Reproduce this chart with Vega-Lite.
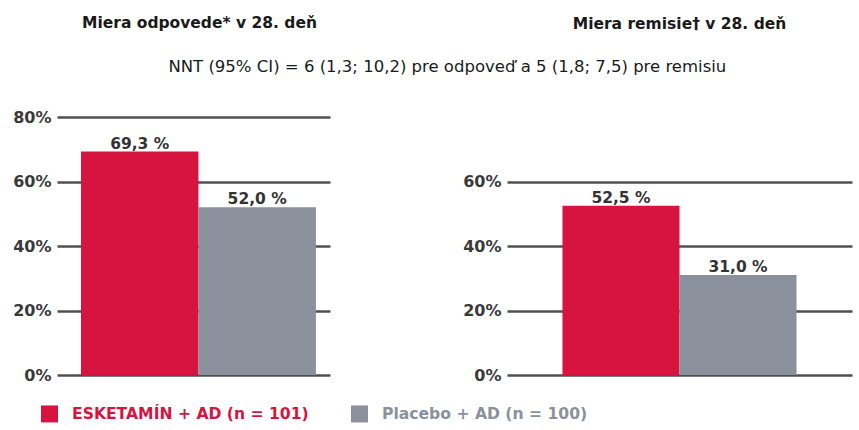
{
  "$schema": "https://vega.github.io/schema/vega-lite/v6.json",
  "background": "white",
  "padding": {"left": 12, "top": 15, "right": 5, "bottom": 5},
  "title": {
    "text": "NNT (95% CI) = 6 (1,3; 10,2) pre odpoveď a 5 (1,8; 7,5) pre remisiu",
    "anchor": "middle",
    "offset": -60,
    "dx": 15,
    "font": "DejaVu Sans",
    "fontSize": 16.5,
    "fontWeight": "normal",
    "color": "#1a1a1a"
  },
  "datasets": {
    "resp": [
      {"group": "ESKETAMÍN + AD (n = 101)", "value": 69.3, "label": "69,3 %"},
      {"group": "Placebo + AD (n = 100)", "value": 52.0, "label": "52,0 %"}
    ],
    "rem": [
      {"group": "ESKETAMÍN + AD (n = 101)", "value": 52.5, "label": "52,5 %"},
      {"group": "Placebo + AD (n = 100)", "value": 31.0, "label": "31,0 %"}
    ]
  },
  "bounds": "flush",
  "spacing": 177,
  "hconcat": [
    {
      "width": 273,
      "height": 258,
      "title": {"text": "Miera odpovede* v 28. deň", "offset": 78, "dx": 6},
      "data": {"name": "resp"},
      "encoding": {
        "x": {
          "field": "group",
          "type": "nominal",
          "axis": null,
          "sort": null,
          "scale": {"paddingInner": 0, "paddingOuter": 0.162, "align": 0.63}
        },
        "y": {
          "field": "value",
          "type": "quantitative",
          "scale": {"domain": [0, 80], "nice": false},
          "axis": {"values": [0, 20, 40, 60, 80], "title": null, "labelExpr": "datum.value + '%'"}
        }
      },
      "layer": [
        {
          "mark": {"type": "bar"},
          "encoding": {
            "color": {
              "field": "group",
              "type": "nominal",
              "scale": {"domain": ["ESKETAMÍN + AD (n = 101)", "Placebo + AD (n = 100)"], "range": ["#d7143f", "#8a919c"]},
              "legend": {
                "title": null,
                "orient": "none",
                "legendX": -16,
                "legendY": 288,
                "direction": "horizontal",
                "symbolType": "square",
                "symbolSize": 289,
                "symbolStrokeWidth": 0,
                "symbolOpacity": 1,
                "labelFont": "DejaVu Sans",
                "labelFontSize": 15.6,
                "labelFontWeight": "bold",
                "labelOffset": 14,
                "columnPadding": 42,
                "padding": 0,
                "labelLimit": 400,
                "encode": {
                  "labels": {"update": {"fill": {"signal": "indexof(datum.value, 'ESKETAM') >= 0 ? '#d7143f' : '#8a919c'"}}}
                }
              }
            }
          }
        },
        {
          "mark": {"type": "text", "baseline": "alphabetic", "dy": -3, "font": "DejaVu Sans", "fontSize": 15.5, "fontWeight": "bold", "color": "#333333"},
          "encoding": {"text": {"field": "label"}}
        }
      ]
    },
    {
      "width": 345,
      "height": 258,
      "title": {"text": "Miera remisie† v 28. deň", "offset": 85},
      "data": {"name": "rem"},
      "encoding": {
        "x": {
          "field": "group",
          "type": "nominal",
          "axis": null,
          "sort": null,
          "scale": {"paddingInner": 0, "paddingOuter": 0.474, "align": 0.5}
        },
        "y": {
          "field": "value",
          "type": "quantitative",
          "scale": {"domain": [0, 80], "nice": false},
          "axis": {"values": [0, 20, 40, 60], "title": null, "labelExpr": "datum.value + '%'"}
        }
      },
      "layer": [
        {
          "mark": {"type": "bar"},
          "encoding": {
            "color": {
              "field": "group",
              "type": "nominal",
              "scale": {"domain": ["ESKETAMÍN + AD (n = 101)", "Placebo + AD (n = 100)"], "range": ["#d7143f", "#8a919c"]}
            }
          }
        },
        {
          "mark": {"type": "text", "baseline": "alphabetic", "dy": -3, "font": "DejaVu Sans", "fontSize": 15.5, "fontWeight": "bold", "color": "#333333"},
          "encoding": {"text": {"field": "label"}}
        }
      ]
    }
  ],
  "config": {
    "view": {"stroke": null},
    "title": {"font": "DejaVu Sans", "fontSize": 15.5, "fontWeight": "bold", "color": "#1a1a1a"},
    "axis": {
      "domain": false,
      "ticks": false,
      "grid": true,
      "gridColor": "#505050",
      "gridWidth": 2.5,
      "gridOpacity": 1,
      "labelFont": "DejaVu Sans",
      "labelFontSize": 16,
      "labelFontWeight": "bold",
      "labelColor": "#3a3a3a",
      "labelPadding": 6
    }
  }
}
